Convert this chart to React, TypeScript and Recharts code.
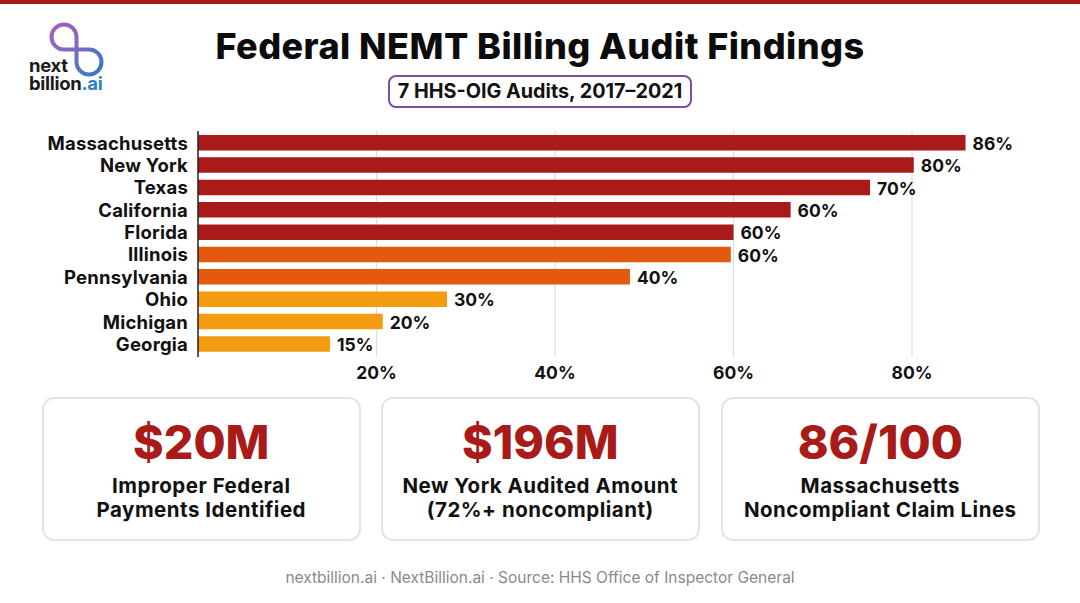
import { BarChart, Bar, Cell, XAxis, YAxis, CartesianGrid, LabelList } from 'recharts';

const states = ['Massachusetts', 'New York', 'Texas', 'California', 'Florida', 'Illinois', 'Pennsylvania', 'Ohio', 'Michigan', 'Georgia'];
// bar lengths as drawn in the picture, they don't always agree with the printed labels
const barValues = [86, 80.2, 75.3, 66.4, 60, 59.7, 48.4, 27.9, 20.7, 14.8];
const barLabels = ['86%', '80%', '70%', '60%', '60%', '60%', '40%', '30%', '20%', '15%'];
const barColors = ['#A81B18', '#A81B18', '#A81B18', '#A81B18', '#A81B18', '#E2590F', '#E2590F', '#F39C12', '#F39C12', '#F39C12'];
const xTicks = [20, 40, 60, 80];

const cardValues = ['$20M', '$196M', '86/100'];
const cardLines = [
  ['Improper Federal', 'Payments Identified'],
  ['New York Audited Amount', '(72%+ noncompliant)'],
  ['Massachusetts', 'Noncompliant Claim Lines'],
];
const cardLefts = [42, 381, 721];

const data = states.map((name, i) => ({ name, value: barValues[i], label: barLabels[i] }));
const font = 'Inter, sans-serif';

function Logo() {
  const text = { position: 'absolute', left: 29, fontFamily: font, fontWeight: 700, fontSize: 18.5, lineHeight: '16px', color: '#1a1a1a', letterSpacing: -0.3 } as const;
  return (
    <div style={{ position: 'absolute', left: 0, top: 0, width: 120, height: 100 }}>
      <svg width={120} height={80} style={{ position: 'absolute', left: 0, top: 0 }}>
        <defs>
          <linearGradient id="logoGrad" x1="0" y1="0" x2="1" y2="1">
            <stop offset="0%" stopColor="#A45FBE" />
            <stop offset="50%" stopColor="#7A6CC0" />
            <stop offset="100%" stopColor="#2C7CC6" />
          </linearGradient>
        </defs>
        <path
          d="M89 49.5 L64 49.5 A12.5 12.5 0 1 1 76.5 37 L76.5 62 A12.5 12.5 0 1 0 89 49.5 Z"
          fill="none"
          stroke="url(#logoGrad)"
          strokeWidth={4}
        />
      </svg>
      <div style={{ ...text, top: 57 }}>next</div>
      <div style={{ ...text, top: 75 }}>
        billion<span style={{ color: '#2F7FC4' }}>.ai</span>
      </div>
    </div>
  );
}

function Card({ left, value, lines }: { left: number; value: string; lines: string[] }) {
  return (
    <div
      style={{
        position: 'absolute',
        left,
        top: 397,
        width: 318.5,
        height: 143.5,
        boxSizing: 'border-box',
        border: '2px solid #E4E4E4',
        borderRadius: 12,
        textAlign: 'center',
        fontFamily: font,
      }}
    >
      <div style={{ position: 'absolute', left: 0, right: 0, top: 13, fontSize: 46.5, lineHeight: '60px', fontWeight: 800, color: '#A81B18' }}>{value}</div>
      <div style={{ position: 'absolute', left: 0, right: 0, top: 75, fontSize: 20.5, letterSpacing: 0.5, lineHeight: '24px', fontWeight: 700, color: '#111' }}>
        {lines[0]}
        <br />
        {lines[1]}
      </div>
    </div>
  );
}

export default function App() {
  return (
    <div style={{ position: 'absolute', left: 0, top: 0, width: 1080, height: 603, background: '#fff', overflow: 'hidden' }}>
      <div style={{ position: 'absolute', left: 0, top: 0, width: 1080, height: 3.5, background: '#A81B18' }} />
      <Logo />
      <div style={{ position: 'absolute', left: 0, width: 1080, top: 24, textAlign: 'center', fontFamily: font, fontWeight: 800, fontSize: 36, letterSpacing: 0.45, lineHeight: '44px', color: '#0c0c0c' }}>
        Federal NEMT Billing Audit Findings
      </div>
      <div
        style={{
          position: 'absolute',
          left: 388,
          top: 75,
          width: 304,
          height: 33,
          boxSizing: 'border-box',
          border: '2px solid #7B4FA0',
          borderRadius: 8,
          textAlign: 'center',
          fontFamily: font,
          fontWeight: 700,
          fontSize: 19.8,
          lineHeight: '29px',
          color: '#111',
        }}
      >
        7 HHS-OIG Audits, 2017–2021
      </div>

      <div style={{ position: 'absolute', left: 0, top: 0 }}>
        <BarChart
          width={1080}
          height={390}
          data={data}
          layout="vertical"
          margin={{ top: 131, right: 25.2, bottom: 3, left: 0 }}
          barCategoryGap={0}
        >
          <CartesianGrid horizontal={false} syncWithTicks stroke="#DEDEDE" strokeWidth={1.2} />
          <XAxis
            type="number"
            domain={[0, 96]}
            ticks={xTicks}
            tickFormatter={(v: number) => `${v}%`}
            axisLine={false}
            tickLine={false}
            height={30}
            tickMargin={4}
            tick={{ fontFamily: font, fontWeight: 700, fontSize: 17.5, fill: '#111' }}
          />
          <YAxis
            type="category"
            dataKey="name"
            width={198}
            interval={0}
            padding={{ top: 1, bottom: 1.5 }}
            tickLine={false}
            tickMargin={4}
            axisLine={{ stroke: '#222', strokeWidth: 1.5 }}
            tick={{ fontFamily: font, fontWeight: 700, fontSize: 18.5, letterSpacing: 0.2, fill: '#111' }}
          />
          <Bar dataKey="value" barSize={15.5} isAnimationActive={false}>
            {data.map((d, i) => (
              <Cell key={d.name} fill={barColors[i]} />
            ))}
            <LabelList
              dataKey="label"
              position="right"
              offset={7}
              dy={1}
              style={{ fontFamily: font, fontWeight: 700, fontSize: 17.5, fill: '#111' }}
            />
          </Bar>
        </BarChart>
      </div>

      {cardValues.map((v, i) => (
        <Card key={v} left={cardLefts[i]} value={v} lines={cardLines[i]} />
      ))}

      <div style={{ position: 'absolute', left: 0, width: 1080, top: 568, textAlign: 'center', fontFamily: font, fontSize: 15.5, lineHeight: '20px', color: '#8A8A8A' }}>
        nextbillion.ai · NextBillion.ai · Source: HHS Office of Inspector General
      </div>
    </div>
  );
}
